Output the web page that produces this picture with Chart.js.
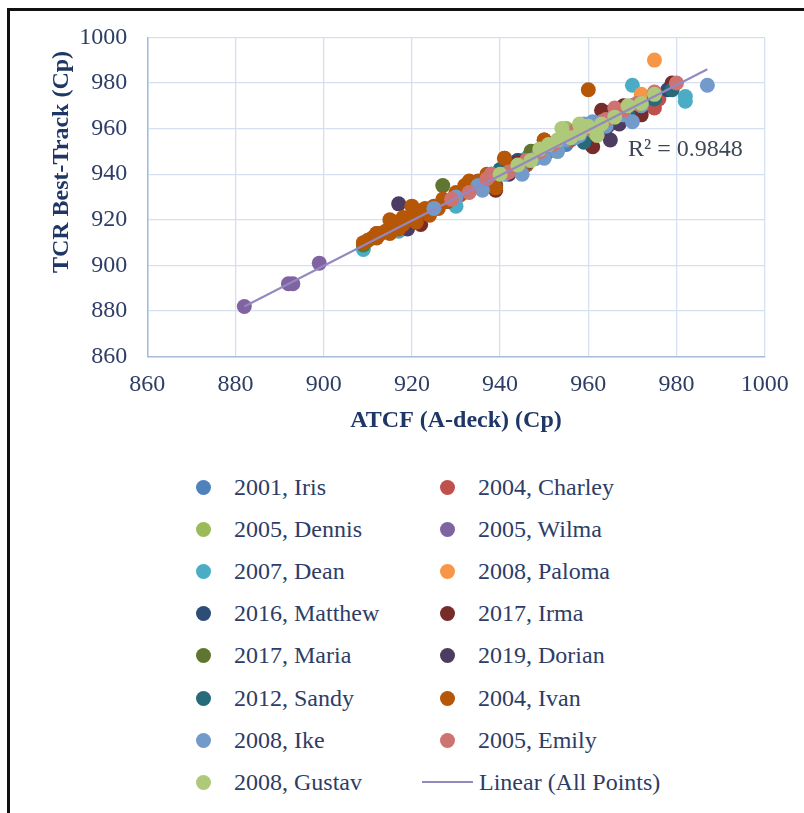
<!DOCTYPE html>
<html>
<head>
<meta charset="utf-8">
<script src="https://cdn.jsdelivr.net/npm/chart.js@4"></script>
<style>
  html, body { margin: 0; padding: 0; background: #fff; }
  #wrap { position: relative; width: 804px; height: 813px; overflow: hidden; font-family: "Liberation Serif", "DejaVu Serif", serif; }
  #frame { position: absolute; left: 7px; top: 8px; width: 820px; height: 820px; border-left: 3px solid #111; border-top: 3px solid #111; }
  #grafico { position: absolute; left: 0; top: 0; }
  .item { position: absolute; font-size: 24px; color: #2e3d66; line-height: 24px; white-space: nowrap; }
  .dot { position: absolute; width: 15px; height: 15px; border-radius: 50%; }
  .risco { position: absolute; height: 2px; }
</style>
</head>
<body>
<div id="wrap">
  <div id="frame"></div>
  <canvas id="grafico" width="804" height="460"></canvas>
  <div id="legenda"></div>
</div>
<script>
// tempestades (ordem da legenda do Excel)
const tempestades = ['2001, Iris', '2004, Charley', '2005, Dennis', '2005, Wilma', '2007, Dean', '2008, Paloma',
  '2016, Matthew', '2017, Irma', '2017, Maria', '2019, Dorian', '2012, Sandy', '2004, Ivan',
  '2008, Ike', '2005, Emily', '2008, Gustav'];
const cores = ['#4F81BD', '#C0504D', '#9BBB59', '#8064A2', '#4BACC6', '#F79646',
  '#2C4D75', '#772C2A', '#5F7530', '#4D3B62', '#276A7C', '#B65708',
  '#729ACA', '#CD7371', '#AFC97A'];

// ATCF (A-deck) x TCR best-track, por tempestade
const atcf = [
  [936, 942, 945, 950, 955, 958, 960, 962, 966, 970, 974, 944, 952],
  [941, 946, 951, 956, 961, 965, 972, 975, 976, 938],
  [944, 948, 953, 955, 958, 962, 968, 972, 975, 950, 960],
  [882, 892, 893, 899, 912, 935, 955, 965],
  [909, 917, 930, 946, 958, 970, 982, 982],
  [975, 972],
  [920, 928, 934, 940, 946, 952, 958, 964, 970, 978, 962, 944],
  [922, 939, 944, 950, 961, 963, 964, 968, 972, 975, 979, 942],
  [909, 927, 947],
  [917, 919, 939, 942, 958, 965, 967, 964, 948],
  [940, 950, 959, 975, 979, 969],
  [909, 910, 911, 912, 913, 914, 915, 915, 916, 917, 918, 919, 920, 920, 921, 922, 923, 924, 925, 926, 928, 930, 932, 933, 935, 937, 939, 941, 943, 946, 950, 960, 912, 918, 927, 931, 934, 945],
  [925, 930, 935, 938, 941, 944, 945, 948, 950, 953, 955, 957, 959, 961, 963, 966, 968, 970, 972, 987, 936, 952, 958, 964],
  [929, 933, 937, 942, 946, 949, 952, 956, 960, 964, 968, 971, 975, 980, 938, 957, 966],
  [940, 944, 947, 949, 951, 954, 956, 958, 960, 962, 966, 969, 972, 975, 953, 958, 963]
];
const tcr = [
  [935, 941, 944, 948, 953, 957, 955, 962, 964, 968, 972, 946, 951],
  [947, 944, 950, 955, 958, 962, 968, 969, 973, 940],
  [944, 950, 950, 960, 957, 960, 966, 971, 975, 952, 958],
  [882, 892, 892, 901, 914, 936, 955, 964],
  [907, 915, 926, 947, 960, 979, 974, 972],
  [990, 975],
  [920, 928, 935, 940, 945, 952, 958, 962, 970, 977, 960, 946],
  [918, 933, 945, 955, 952, 968, 967, 970, 966, 975, 980, 944],
  [909, 935, 950],
  [927, 916, 935, 940, 958, 955, 962, 960, 947],
  [942, 950, 954, 973, 977, 966],
  [910, 911, 912, 912, 914, 915, 920, 914, 919, 916, 918, 920, 926, 922, 919, 924, 925, 922, 926, 925, 928, 932, 935, 937, 937, 940, 934, 947, 942, 946, 955, 977, 914, 921, 929, 931, 936, 943],
  [925, 930, 935, 940, 940, 943, 940, 947, 947, 950, 955, 956, 962, 963, 963, 966, 966, 963, 970, 979, 933, 952, 957, 961],
  [929, 932, 938, 941, 946, 950, 953, 957, 960, 964, 968, 971, 976, 980, 940, 959, 969],
  [940, 944, 946, 951, 953, 960, 956, 958, 961, 957, 965, 970, 971, 975, 955, 962, 962]
];

// linha de tendencia (Linear, todos os pontos)
const tendenciaX = [882, 987];
const tendenciaY = [882, 986];
const r2Texto = 'R² = 0.9848';

const eixoTicks = [860, 880, 900, 920, 940, 960, 980, 1000];

const corTexto = '#2e3d66';
const corTitulo = '#1f3766';

const datasets = tempestades.map((nome, i) => ({
  type: 'scatter',
  label: nome,
  data: atcf[i].map((x, j) => ({ x: x, y: tcr[i][j] })),
  backgroundColor: cores[i],
  borderColor: cores[i],
  pointRadius: 7.5,
  pointBorderWidth: 0,
  order: tempestades.length - i + 1
}));

datasets.push({
  type: 'line',
  label: 'Linear (All Points)',
  data: tendenciaX.map((x, j) => ({ x: x, y: tendenciaY[j] })),
  borderColor: '#9488c0',
  borderWidth: 2,
  pointRadius: 0,
  fill: false,
  order: 0
});

const textosExtras = {
  id: 'textosExtras',
  afterDraw(chart) {
    const c = chart.ctx;
    const a = chart.chartArea;
    c.save();
    c.fillStyle = corTitulo;
    c.font = 'bold 24px "Liberation Serif"';
    c.textAlign = 'center';
    c.textBaseline = 'middle';
    c.fillText('ATCF (A-deck) (Cp)', (a.left + a.right) / 2, 421);
    c.translate(62, 162);
    c.rotate(-Math.PI / 2);
    c.fillText('TCR Best-Track (Cp)', 0, 0);
    c.restore();

    c.save();
    c.fillStyle = '#3e4656';
    c.font = '24px "Liberation Serif"';
    c.textAlign = 'left';
    c.textBaseline = 'middle';
    c.fillText(r2Texto, 628, 150);
    c.restore();
  }
};

const fonteEixo = { family: 'Liberation Serif', size: 24 };

new Chart(document.getElementById('grafico').getContext('2d'), {
  data: { datasets: datasets },
  options: {
    responsive: false,
    animation: false,
    devicePixelRatio: 1,
    layout: { padding: { left: 0, top: 37.3, right: 39.3, bottom: 0 } },
    plugins: { legend: { display: false }, tooltip: { enabled: false } },
    scales: {
      x: {
        type: 'linear',
        min: 860, max: 1000,
        afterBuildTicks: s => { s.ticks = eixoTicks.map(v => ({ value: v })); },
        afterFit: s => { s.height = 103.3; },
        grid: { color: '#d5dff0', lineWidth: 1.3, drawTicks: false },
        border: { color: '#a9bddf', width: 1.5 },
        ticks: { padding: 14, color: corTexto, font: fonteEixo, callback: v => String(v) }
      },
      y: {
        type: 'linear',
        min: 860, max: 1000,
        afterBuildTicks: s => { s.ticks = eixoTicks.map(v => ({ value: v })); },
        afterFit: s => { s.width = 147.3; },
        grid: { color: '#d5dff0', lineWidth: 1.3, drawTicks: false },
        border: { color: '#a3b9de', width: 1.5 },
        ticks: { padding: 20, color: corTexto, font: fonteEixo, callback: v => String(v) }
      }
    }
  },
  plugins: [textosExtras]
});

// legenda em duas colunas
const legenda = document.getElementById('legenda');
const colunas = [{ dot: 203, txt: 234 }, { dot: 447, txt: 478 }];
const linhas = [487, 529, 571, 613, 655, 698, 740, 782];
tempestades.forEach((nome, i) => {
  const col = colunas[i % 2];
  const yc = linhas[Math.floor(i / 2)];
  const d = document.createElement('div');
  d.className = 'dot';
  d.style.left = (col.dot - 7.5) + 'px';
  d.style.top = (yc - 7.5) + 'px';
  d.style.background = cores[i];
  legenda.appendChild(d);
  const t = document.createElement('div');
  t.className = 'item';
  t.style.left = col.txt + 'px';
  t.style.top = (yc - 12) + 'px';
  t.textContent = nome;
  legenda.appendChild(t);
});
const r = document.createElement('div');
r.className = 'risco';
r.style.left = '422px';
r.style.width = '51px';
r.style.top = '781px';
r.style.background = '#9488c0';
legenda.appendChild(r);
const rt = document.createElement('div');
rt.className = 'item';
rt.style.left = '479px';
rt.style.top = (782 - 12) + 'px';
rt.textContent = 'Linear (All Points)';
legenda.appendChild(rt);
</script>
</body>
</html>
